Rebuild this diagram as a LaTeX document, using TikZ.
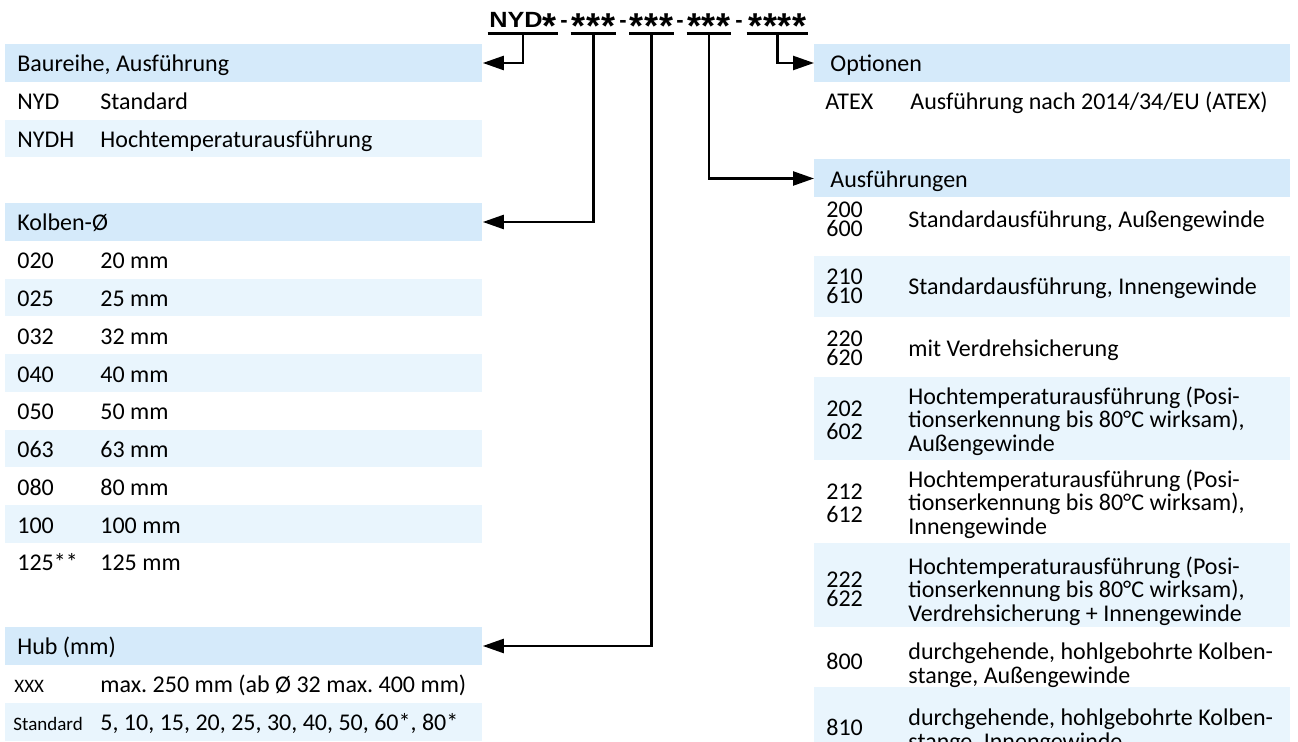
\documentclass[tikz,border=0pt]{standalone}
\usepackage{fontspec}
\setmainfont{Carlito}
\newfontfamily\titlefont{Liberation Sans}
\usetikzlibrary{arrows.meta}

\definecolor{headblue}{RGB}{213,234,250}
\definecolor{rowblue}{RGB}{233,245,253}

% big asterisk of the type code
\newcommand\tstar{\raisebox{-5.5pt}{\fontsize{18}{18}\selectfont *}}
\newcommand\tgap{\kern0.4pt}
\frenchspacing

\tikzset{
  every node/.style={font=\fontsize{12}{14}\selectfont},
  head/.style={fill=headblue, anchor=west, minimum height=19pt, inner ysep=0pt,
    align=flush left, text height=9pt, text depth=0pt},
  lhead/.style={head, inner xsep=6pt, text width=226.5pt},
  rhead/.style={head, inner xsep=8pt, text width=222pt},
  cell/.style={anchor=base west, inner sep=0pt},
  small/.style={cell, font=\fontsize{9.5}{11}\selectfont},
  rcell/.style={anchor=west, inner sep=0pt, align=left},
  codes/.style={rcell, font=\fontsize{12}{9.5}\selectfont},
  codeswide/.style={rcell, font=\fontsize{12}{11.5}\selectfont},
  desc/.style={rcell, font=\fontsize{12}{11.75}\selectfont},
  seg/.style={anchor=base, inner sep=0pt, text height=8pt, text depth=0pt,
    font=\titlefont\fontsize{11}{12}\selectfont\bfseries},
  uline/.style={line width=1.4pt},
  link/.style={line width=1.2pt, -{Triangle[length=10.5pt,width=7pt]}}
}

\begin{document}
\begin{tikzpicture}[x=0.5pt, y=-0.5pt]
  \useasboundingbox (0,0) rectangle (1298,742);

  % Typenschluessel
  \node[seg, minimum width=35pt] (sNYD) at (523,28) {\scalebox{1.15}[1]{NYD}\tstar};
  \node[seg] (d1) at (564,28) {-};
  \node[seg, minimum width=22.5pt] (sKol) at (593.5,28) {\tstar\tgap\tstar\tgap\tstar};
  \node[seg] (d2) at (623,28) {-};
  \node[seg, minimum width=21.5pt] (sHub) at (651.5,28) {\tstar\tgap\tstar\tgap\tstar};
  \node[seg] (d3) at (680,28) {-};
  \node[seg, minimum width=22pt] (sAus) at (709,28) {\tstar\tgap\tstar\tgap\tstar};
  \node[seg] (d4) at (739,28) {-};
  \node[seg, minimum width=30.5pt] (sOpt) at (777.5,28) {\tstar\tgap\tstar\tgap\tstar\tgap\tstar};
  \foreach \s in {sNYD,sKol,sHub,sAus,sOpt}
    \draw[uline] ([yshift=-2.5pt]\s.south west) -- ([yshift=-2.5pt]\s.south east);

  % Baureihe
  \node[lhead] (hBau) at (5,63) {Baureihe, Ausführung};
  \fill[rowblue] (5,120) rectangle (482,157.5);
  \node[cell] (bc1) at (17,110) {NYD};
  \node[cell] (bd1) at (100,110) {Standard};
  \node[cell] (bc2) at (17,148) {NYDH};
  \node[cell] (bd2) at (100,148) {Hochtemperaturausführung};

  % Kolben
  \node[lhead] (hKol) at (5,222) {Kolben-Ø};
  \foreach \c/\d [count=\i] in {020/20 mm, 025/25 mm, 032/32 mm, 040/40 mm,
      050/50 mm, 063/63 mm, 080/80 mm, 100/100 mm, 125**/125 mm} {
    \pgfmathsetmacro\t{241+(\i-1)*37.75}
    \ifodd\i\else
      \fill[rowblue] (5,\t) rectangle (482,{\t+37.75});
    \fi
    \node[cell] (kc\i) at (17,{\t+28}) {\c};
    \node[cell] (kd\i) at (100,{\t+28}) {\d};
  }

  % Hub
  \node[lhead] (hHub) at (5,646) {Hub (mm)};
  \fill[rowblue] (5,703) rectangle (482,741);
  \node[small] (hc1) at (14,693) {XXX};
  \node[cell] (hd1) at (100,693) {max. 250 mm (ab Ø 32 max. 400 mm)};
  \node[small] (hc2) at (13,731) {Standard};
  \node[cell] (hd2) at (100,731) {5, 10, 15, 20, 25, 30, 40, 50, 60*, 80*};

  % Optionen
  \node[rhead] (hOpt) at (814,63) {Optionen};
  \node[cell] (oc1) at (825,110) {ATEX};
  \node[cell] (od1) at (910,110) {Ausführung nach 2014/34/EU (ATEX)};

  % Ausfuehrungen
  \node[rhead] (hAus) at (814,178.5) {Ausführungen};
  \fill[rowblue] (814,256) rectangle (1290,317);
  \fill[rowblue] (814,377) rectangle (1290,460);
  \fill[rowblue] (814,543) rectangle (1290,627);
  \fill[rowblue] (814,687) rectangle (1290,747);
  \node[codes] (ac1) at (826,219) {200\\600};
  \node[desc] (ad1) at (908,221) {Standardausführung, Außengewinde};
  \node[codes] (ac2) at (826,286) {210\\610};
  \node[desc] (ad2) at (908,288) {Standardausführung, Innengewinde};
  \node[codes] (ac3) at (826,348) {220\\620};
  \node[desc] (ad3) at (908,350) {mit Verdrehsicherung};
  \node[codeswide] (ac4) at (826,420) {202\\602};
  \node[desc] (ad4) at (908,421) {Hochtemperaturausführung (Posi-\\tionserkennung bis 80°C wirksam),\\Außengewinde};
  \node[codeswide] (ac5) at (826,503) {212\\612};
  \node[desc] (ad5) at (908,504) {Hochtemperaturausführung (Posi-\\tionserkennung bis 80°C wirksam),\\Innengewinde};
  \node[codes] (ac6) at (826,589) {222\\622};
  \node[desc] (ad6) at (908,591) {Hochtemperaturausführung (Posi-\\tionserkennung bis 80°C wirksam),\\Verdrehsicherung + Innengewinde};
  \node[rcell] (ac7) at (826,661) {800};
  \node[desc] (ad7) at (908,665) {durchgehende, hohlgebohrte Kolben-\\stange, Außengewinde};
  \node[rcell] (ac8) at (826,727) {810};
  \node[desc] (ad8) at (908,731) {durchgehende, hohlgebohrte Kolben-\\stange, Innengewinde};

  % Pfeile
  \draw[link] ([yshift=-2.5pt]sNYD.south) |- (hBau.east);
  \draw[link] ([yshift=-2.5pt]sKol.south) |- (hKol.east);
  \draw[link] ([yshift=-2.5pt]sHub.south) |- (hHub.east);
  \draw[link] ([yshift=-2.5pt]sAus.south) |- (hAus.west);
  \draw[link] ([yshift=-2.5pt]sOpt.south) |- (hOpt.west);
\end{tikzpicture}
\end{document}
